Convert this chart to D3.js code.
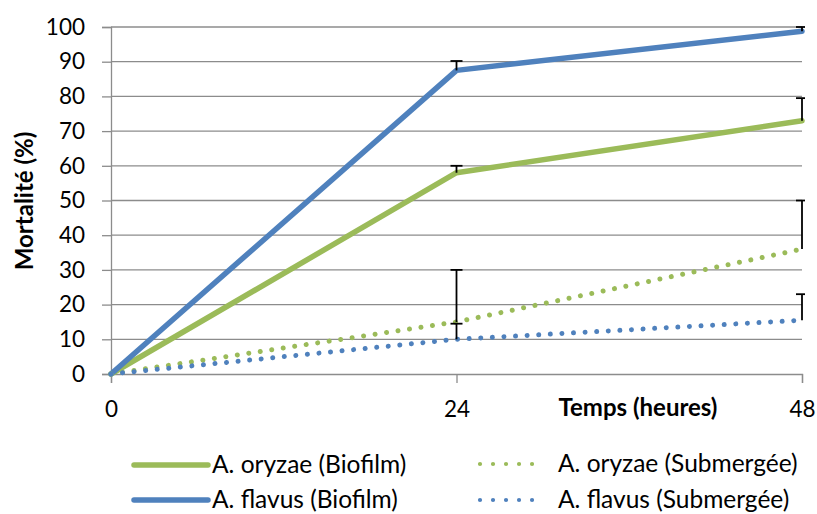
<!DOCTYPE html>
<html>
<head>
<meta charset="utf-8">
<script src="https://cdn.jsdelivr.net/npm/d3@7"></script>
<style>
  body { margin: 0; background: #fff; }
  text { font-family: Lato, "Open Sans", sans-serif; fill: #000; }
</style>
</head>
<body>
<div id="chart"></div>
<script>
// time points (hours)
var hours = [0, 24, 48];
var yTicks = [0, 10, 20, 30, 40, 50, 60, 70, 80, 90, 100];

// mortality (%) and upper error
var oryzaeBiofilm = [0, 58, 73];
var oryzaeBiofilmErr = [0, 2, 6.5];
var flavusBiofilm = [0, 87.5, 98.8];
var flavusBiofilmErr = [0, 2.7, 1.2];
var oryzaeSub = [0, 15, 36];
var oryzaeSubErr = [0, 15, 14];
var flavusSub = [0, 10, 15.5];
var flavusSubErr = [0, 4.5, 7.5];

var green = "#9bbb59", blue = "#4f81bd";

var series = [
  { name: "A. oryzae (Biofilm)", values: oryzaeBiofilm, err: oryzaeBiofilmErr, color: green, dotted: false },
  { name: "A. flavus (Biofilm)", values: flavusBiofilm, err: flavusBiofilmErr, color: blue, dotted: false },
  { name: "A. oryzae (Submergée)", values: oryzaeSub, err: oryzaeSubErr, color: green, dotted: true },
  { name: "A. flavus (Submergée)", values: flavusSub, err: flavusSubErr, color: blue, dotted: true }
];

var w = 817, h = 514;
var svg = d3.select("#chart").append("svg").attr("width", w).attr("height", h);

var x = d3.scaleLinear().domain([0, 48]).range([111, 802]);
var y = d3.scaleLinear().domain([0, 100]).range([374, 27]);

// gridlines
svg.append("g").selectAll("line").data(yTicks.slice(1)).enter().append("line")
  .attr("x1", x(0)).attr("x2", x(48))
  .attr("y1", function(d) { return y(d); }).attr("y2", function(d) { return y(d); })
  .attr("stroke", "#8c8c8c").attr("stroke-width", 1.3);

// y axis
var yAxis = svg.append("g").attr("transform", "translate(" + x(0) + ",0)")
  .call(d3.axisLeft(y).tickValues(yTicks).tickSize(9).tickPadding(17));
yAxis.select(".domain").attr("stroke", "#8c8c8c").attr("stroke-width", 1.3);
yAxis.selectAll(".tick line").attr("stroke", "#8c8c8c").attr("stroke-width", 1.3);
yAxis.selectAll("text").style("font-size", "22.5px").style("font-family", "Lato");

// x axis
var xAxis = svg.append("g").attr("transform", "translate(0," + y(0) + ")")
  .call(d3.axisBottom(x).tickValues(hours).tickSize(9));
xAxis.select(".domain").attr("stroke", "#8c8c8c").attr("stroke-width", 1.3);
xAxis.selectAll(".tick line").attr("stroke", "#8c8c8c").attr("stroke-width", 1.3);
xAxis.selectAll("text").attr("y", 43).attr("dy", 0)
  .style("font-size", "22.5px").style("font-family", "Lato");

// titles
svg.append("text").attr("transform", "translate(33,201) rotate(-90)")
  .attr("text-anchor", "middle").style("font-size", "24px").style("font-weight", "bold")
  .text("Mortalité (%)");
svg.append("text").attr("x", 638).attr("y", 416)
  .attr("text-anchor", "middle").style("font-size", "24px").style("font-weight", "bold")
  .text("Temps (heures)");

svg.append("clipPath").attr("id", "plotclip").append("rect")
  .attr("x", 0).attr("y", 0).attr("width", 805).attr("height", 400);

var line = d3.line()
  .x(function(d, i) { return x(hours[i]); })
  .y(function(d) { return y(d); });

var plot = svg.append("g").attr("clip-path", "url(#plotclip)");

series.forEach(function(s) {
  plot.append("path").datum(s.values)
    .attr("d", line).attr("fill", "none")
    .attr("stroke", s.color)
    .attr("stroke-width", s.dotted ? 5 : 5.5)
    .attr("stroke-linecap", "round")
    .attr("stroke-linejoin", "round")
    .attr("stroke-dasharray", s.dotted ? "0.01 11.6" : null);
});

// error bars (plus only)
series.forEach(function(s) {
  s.values.forEach(function(v, i) {
    if (!s.err[i]) return;
    var cx = x(hours[i]);
    var g = plot.append("g").attr("stroke", "#000").attr("stroke-width", 1.8);
    g.append("line").attr("x1", cx).attr("x2", cx).attr("y1", y(v)).attr("y2", y(v + s.err[i]));
    g.append("line").attr("x1", cx - 6).attr("x2", cx + 6)
      .attr("y1", y(v + s.err[i])).attr("y2", y(v + s.err[i]));
  });
});

// legend
var legendPos = [
  { lx: 134, ly: 465 }, { lx: 134, ly: 500 },
  { lx: 480, ly: 464 }, { lx: 480, ly: 500 }
];
series.forEach(function(s, i) {
  var p = legendPos[i];
  var len = s.dotted ? 65 : 74;
  svg.append("line").attr("x1", p.lx).attr("x2", p.lx + len)
    .attr("y1", p.ly).attr("y2", p.ly)
    .attr("stroke", s.color).attr("stroke-width", s.dotted ? 4.2 : 5.5)
    .attr("stroke-linecap", "round")
    .attr("stroke-dasharray", s.dotted ? "0.01 13" : null);
  svg.append("text").attr("x", p.lx + 78).attr("y", p.ly + 8)
    .style("font-size", "24.5px").text(s.name);
});
</script>
</body>
</html>
